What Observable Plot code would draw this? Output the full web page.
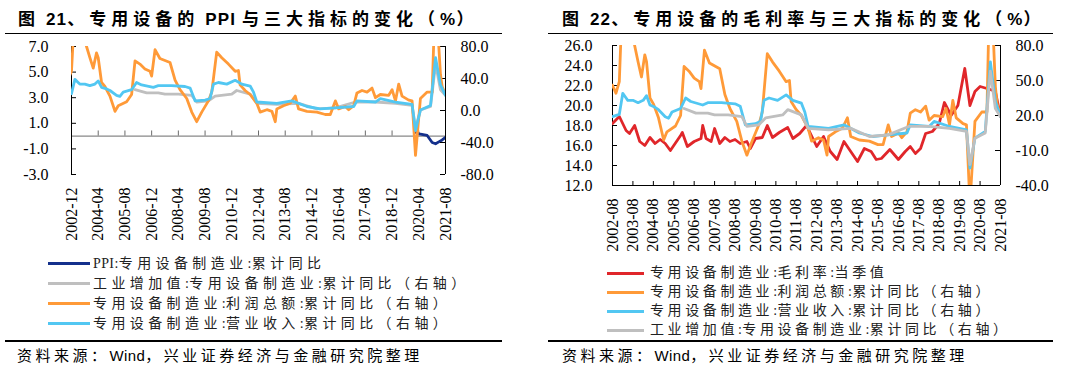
<!DOCTYPE html>
<html><head><meta charset="utf-8">
<script src="https://cdn.jsdelivr.net/npm/d3@7"></script>
<script src="https://cdn.jsdelivr.net/npm/@observablehq/plot@0.6"></script>
<style>
body{margin:0;background:#fff;}
#root{position:relative;width:1074px;height:380px;overflow:hidden;background:#fff;}
.abs{position:absolute;}
.title{font-family:"Liberation Sans","Noto Sans CJK SC",sans-serif;font-weight:bold;font-size:17px;letter-spacing:5px;white-space:nowrap;line-height:20px;color:#000;}
.title .lat{letter-spacing:1.2px;}
.hr{height:1.5px;background:#000;}
.leg{font-family:"Liberation Serif","Noto Sans CJK SC",serif;font-size:14px;white-space:nowrap;line-height:18px;color:#222;}
.leg21{letter-spacing:4.4px;}
.leg22{letter-spacing:3.6px;}
.sw{height:3px;}
.src{font-family:"Liberation Sans","Noto Sans CJK SC",sans-serif;font-size:15px;letter-spacing:3.5px;white-space:nowrap;line-height:20px;color:#000;}
.lat{letter-spacing:0.4px;}
svg.plotsvg{position:absolute;}
</style></head><body><div id="root"></div>
<script>
// ---------- DATA ----------
const titles = ["图 21、专用设备的 PPI 与三大指标的变化（%）", "图 22、专用设备的毛利率与三大指标的变化（%）"];
const sourceText = "资料来源：Wind，兴业证券经济与金融研究院整理";

const xLabels21 = ["2002-12","2004-04","2005-08","2006-12","2008-04","2009-08","2010-12","2012-04","2013-08","2014-12","2016-04","2017-08","2018-12","2020-04","2021-08"];
const xLabels22 = ["2002-08","2003-08","2004-08","2005-08","2006-08","2007-08","2008-08","2009-08","2010-08","2011-08","2012-08","2013-08","2014-08","2015-08","2016-08","2017-08","2018-08","2019-08","2020-08","2021-08"];
const leftTicks21 = [7, 5, 3, 1, -1, -3];
const rightTicks21 = [80, 40, 0, -40, -80];
const leftTicks22 = [26, 24, 22, 20, 18, 16, 14, 12];
const rightTicks22 = [80, 50, 20, -10, -40];

// PPI: 专用设备制造业: 累计同比 (left axis, fig 21)
const ppi = [["2020-02",0.3],["2020-05",0.15],["2020-09",0.05],["2020-12",-0.5],["2021-02",-0.6],["2021-04",-0.45],["2021-06",-0.3],["2021-08",-0.1]];

// 专用设备制造业: 毛利率: 当季值 (left axis, fig 22)
const grossMargin = [["2002-08",18.2],["2002-12",18.9],["2003-04",17.5],["2003-06",17.2],["2003-09",18.0],["2003-12",16.4],["2004-03",16.0],["2004-06",16.8],["2004-09",16.2],["2004-12",16.6],["2005-03",16.2],["2005-06",15.5],["2005-12",17.0],["2006-01",17.3],["2006-04",15.9],["2006-08",16.4],["2006-12",16.7],["2007-01",18.0],["2007-03",16.7],["2007-06",16.4],["2007-08",17.7],["2007-11",16.2],["2008-02",16.8],["2008-05",16.4],["2008-08",16.6],["2008-11",16.2],["2009-03",16.4],["2009-05",15.7],["2009-08",16.7],["2009-12",16.8],["2010-03",18.0],["2010-06",16.8],["2010-10",17.3],["2011-03",17.8],["2011-06",16.7],["2011-10",17.2],["2012-02",18.0],["2012-08",15.9],["2012-12",16.9],["2013-04",15.4],["2013-08",14.6],["2013-12",16.4],["2014-04",15.4],["2014-08",14.4],["2014-12",15.7],["2015-04",15.4],["2015-07",14.6],["2015-10",14.7],["2016-03",15.6],["2016-08",14.6],["2016-12",15.4],["2017-03",15.9],["2017-06",15.2],["2017-09",15.7],["2017-12",17.2],["2018-04",17.4],["2018-08",18.2],["2018-11",20.3],["2019-03",19.0],["2019-07",20.0],["2019-11",23.7],["2020-02",20.0],["2020-05",21.4],["2020-08",21.9],["2021-02",21.6],["2021-05",21.4],["2021-08",18.9]];

// 专用设备制造业: 利润总额: 累计同比 (right axis)
const profit = [["2002-08",46],["2002-10",39],["2002-12",49],["2003-02",130],["2003-09",80],["2003-11",66],["2004-01",53],["2004-03",72],["2004-04",66],["2004-06",35],["2004-08",30],["2004-11",18],["2005-02",-1],["2005-04",6],["2005-09",11],["2005-12",20],["2006-02",62],["2006-05",58],["2006-08",52],["2006-11",49],["2006-12",43],["2007-02",76],["2007-05",65],["2007-11",60],["2008-02",38],["2008-05",26],["2008-09",15],["2008-12",-2],["2009-03",-14],["2009-06",-2],["2009-10",12],["2009-12",23],["2010-03",73],["2010-06",66],["2010-10",58],["2011-02",49],["2011-04",50],["2011-05",32],["2011-08",25],["2011-11",20],["2012-03",9],["2012-05",-2],["2012-09",1],["2012-12",-1],["2013-02",-14],["2013-03",2],["2013-07",6],["2013-11",9],["2014-02",18],["2014-04",2],["2014-09",-1],["2015-03",-2],["2015-08",-5],["2015-11",-5],["2016-02",12],["2016-04",2],["2016-08",5],["2016-10",1],["2017-01",6],["2017-03",22],["2017-06",25],["2017-09",23],["2017-12",28],["2018-02",16],["2018-05",20],["2018-10",19],["2018-12",26],["2019-02",12],["2019-04",33],["2019-06",18],["2019-10",13],["2019-12",12],["2020-02",-56],["2020-05",15],["2020-09",23],["2020-12",23],["2021-02",160],["2021-04",80],["2021-05",45],["2021-06",30],["2021-08",20]];

// 专用设备制造业: 营业收入: 累计同比 (right axis)
const revenue = [["2002-08",19],["2002-12",21],["2003-02",39],["2003-04",35],["2003-05",33],["2003-08",33],["2003-11",31],["2004-02",33],["2004-04",37],["2004-06",29],["2004-09",27],["2004-11",25],["2005-03",19],["2005-05",17.7],["2005-07",23],["2005-12",26],["2006-03",35],["2006-06",32],["2007-01",29],["2007-04",31],["2007-12",31],["2008-08",30],["2008-11",28],["2009-02",12],["2009-08",13],["2009-11",15],["2010-01",33],["2010-04",35],["2010-09",33],["2011-02",37.7],["2011-06",33],["2011-11",30.6],["2012-01",23],["2012-03",10.6],["2013-03",9],["2013-12",12],["2014-09",5],["2015-05",2],["2016-02",3.4],["2017-01",5],["2017-03",12],["2018-02",10.6],["2018-05",14.9],["2019-02",10.6],["2019-12",7.7],["2020-02",-25],["2020-05",0.6],["2020-11",6.3],["2021-02",66],["2021-05",32],["2021-08",19]];

// 工业增加值: 专用设备制造业: 累计同比 (right axis)
const valueAdded = [["2006-02",26],["2006-09",22],["2007-04",22],["2007-08",20.5],["2008-04",20.5],["2008-12",19],["2009-03",10.6],["2009-10",12],["2010-02",18],["2010-12",20.5],["2011-03",25],["2011-11",20.5],["2012-03",9],["2013-03",7.7],["2014-04",9],["2015-03",2],["2016-02",3.4],["2017-02",10.6],["2018-02",10.6],["2019-02",9],["2019-12",6.3],["2020-02",-22],["2020-05",0.6],["2020-11",5],["2021-02",58],["2021-05",26],["2021-08",19]];

const colors = {ppi:"#14308c", margin:"#e0262a", profit:"#ff9a38", revenue:"#52c7f2", va:"#bfbfbf"};
const legend21 = [["PPI:专用设备制造业:累计同比", colors.ppi],["工业增加值:专用设备制造业:累计同比（右轴）", colors.va],["专用设备制造业:利润总额:累计同比（右轴）", colors.profit],["专用设备制造业:营业收入:累计同比（右轴）", colors.revenue]];
const legend22 = [["专用设备制造业:毛利率:当季值", colors.margin],["专用设备制造业:利润总额:累计同比（右轴）", colors.profit],["专用设备制造业:营业收入:累计同比（右轴）", colors.revenue],["工业增加值:专用设备制造业:累计同比（右轴）", colors.va]];

// ---------- BUILD ----------
const root = document.getElementById("root");
const parse = d3.utcParse("%Y-%m");
const fmtX = d3.utcFormat("%Y-%m");
const rows = arr => arr.map(([d, v]) => ({date: parse(d), value: v}));
function add(el, cls, css, text){
  const e=document.createElement(el);e.className=cls;Object.assign(e.style,css);
  if(text!=null){
    text.split(/([\x20-\x7E]+)/).forEach(part=>{
      if(!part) return;
      if(/^[\x20-\x7E]+$/.test(part)){const s=document.createElement("span");s.className="lat";s.textContent=part;e.appendChild(s);}
      else e.appendChild(document.createTextNode(part));
    });
  }
  root.appendChild(e);return e;
}
function place(svg, left, top){svg.classList.add("plotsvg");svg.style.left=left+"px";svg.style.top=top+"px";root.appendChild(svg);}
const baseStyle = {fontFamily:"Liberation Serif, Noto Sans CJK SC, serif", fontSize:"16px", background:"transparent", color:"#000", overflow:"visible"};
const lineOpts = (stroke) => ({x:"date", y:"value", stroke, strokeWidth:2.8, strokeLinejoin:"round", clip:true});
const fixed1 = d => d.toFixed(1);

// Titles, rules, legends, sources
add("div","abs title",{left:"18px",top:"10px"},titles[0]);
add("div","abs title",{left:"562px",top:"10px"},titles[1]);
add("div","abs hr",{left:"5px",top:"32.5px",width:"497px"});
add("div","abs hr",{left:"548px",top:"32.5px",width:"505px"});
add("div","abs hr",{left:"5px",top:"340px",width:"497px"});
add("div","abs hr",{left:"548px",top:"340px",width:"505px"});
add("div","abs src",{left:"17px",top:"346px"},sourceText);
add("div","abs src",{left:"562px",top:"346px"},sourceText);
legend21.forEach(([t,c],i)=>{const cy=263.5+i*20;add("div","abs sw",{left:"48px",top:(cy-1.5)+"px",width:"42px",background:c});add("div","abs leg leg21",{left:"93px",top:(cy-9)+"px"},t);});
legend22.forEach(([t,c],i)=>{const cy=273.3+i*19;add("div","abs sw",{left:"607px",top:(cy-1.5)+"px",width:"37px",background:c});add("div","abs leg leg22",{left:"650px",top:(cy-9)+"px"},t);});

// ----- Figure 21 -----
const d21 = [parse(xLabels21[0]), parse(xLabels21[xLabels21.length-1])];
const t21 = xLabels21.map(parse);
const dims21 = {width:537, height:222, marginTop:6, marginRight:92, marginBottom:88, marginLeft:71};
const inner21 = dims21.width - dims21.marginLeft - dims21.marginRight;
const p21L = Plot.plot({...dims21, style:baseStyle,
  x:{type:"utc", domain:d21},
  y:{domain:[-3,7]},
  marks:[
    Plot.ruleY([0],{stroke:"#6b6b6b",strokeWidth:1}),
    Plot.ruleX(t21,{x:d=>d,y1:0,y2:0.4,stroke:"#6b6b6b"}),
    Plot.ruleX([d21[0]],{stroke:"#000"}),
    Plot.ruleY(leftTicks21,{y:d=>d,insetRight:inner21-5,stroke:"#000"}),
    Plot.axisY({ticks:leftTicks21,tickFormat:fixed1,tickSize:0,tickPadding:23,fontSize:16,label:null}),
    Plot.axisX({ticks:t21,tickFormat:fmtX,tickRotate:-90,tickSize:0,tickPadding:13,fontSize:16,label:null}),
    Plot.lineY(rows(ppi),lineOpts(colors.ppi))
  ]});
const p21R = Plot.plot({...dims21, style:baseStyle,
  x:{type:"utc", domain:d21, axis:null},
  y:{domain:[-80,80]},
  marks:[
    Plot.ruleX([d21[1]],{stroke:"#000"}),
    Plot.ruleY(rightTicks21,{y:d=>d,insetLeft:inner21-5,stroke:"#000"}),
    Plot.axisY({anchor:"right",ticks:rightTicks21,tickFormat:fixed1,tickSize:0,tickPadding:15,fontSize:16,label:null}),
    Plot.lineY(rows(valueAdded),lineOpts(colors.va)),
    Plot.lineY(rows(profit),lineOpts(colors.profit)),
    Plot.lineY(rows(revenue),lineOpts(colors.revenue))
  ]});
place(p21L,0,40); place(p21R,0,40);

// ----- Figure 22 -----
const d22 = [parse(xLabels22[0]), parse(xLabels22[xLabels22.length-1])];
const t22 = xLabels22.map(parse);
const dims22 = {width:534, height:226, marginTop:5, marginRight:74, marginBottom:81, marginLeft:72};
const inner22 = dims22.width - dims22.marginLeft - dims22.marginRight;
const p22L = Plot.plot({...dims22, style:baseStyle,
  x:{type:"utc", domain:d22},
  y:{domain:[12,26]},
  marks:[
    Plot.ruleY([12],{stroke:"#000"}),
    Plot.ruleX(t22,{x:d=>d,y1:12,y2:12.4,stroke:"#000"}),
    Plot.ruleX([d22[0]],{stroke:"#000"}),
    Plot.ruleY(leftTicks22,{y:d=>d,insetRight:inner22-5,stroke:"#000"}),
    Plot.axisY({ticks:leftTicks22,tickFormat:fixed1,tickSize:0,tickPadding:20,fontSize:16,label:null}),
    Plot.axisX({ticks:t22,tickFormat:fmtX,tickRotate:-90,tickSize:0,tickPadding:13,fontSize:16,label:null}),
    Plot.lineY(rows(grossMargin),lineOpts(colors.margin))
  ]});
const p22R = Plot.plot({...dims22, style:baseStyle,
  x:{type:"utc", domain:d22, axis:null},
  y:{domain:[-40,80]},
  marks:[
    Plot.ruleX([d22[1]],{stroke:"#000"}),
    Plot.ruleY(rightTicks22,{y:d=>d,insetLeft:inner22-5,stroke:"#000"}),
    Plot.axisY({anchor:"right",ticks:rightTicks22,tickFormat:fixed1,tickSize:0,tickPadding:15,fontSize:16,label:null}),
    Plot.lineY(rows(profit),lineOpts(colors.profit)),
    Plot.lineY(rows(revenue),lineOpts(colors.revenue)),
    Plot.lineY(rows(valueAdded),lineOpts(colors.va))
  ]});
place(p22L,540,40); place(p22R,540,40);
</script></body></html>
